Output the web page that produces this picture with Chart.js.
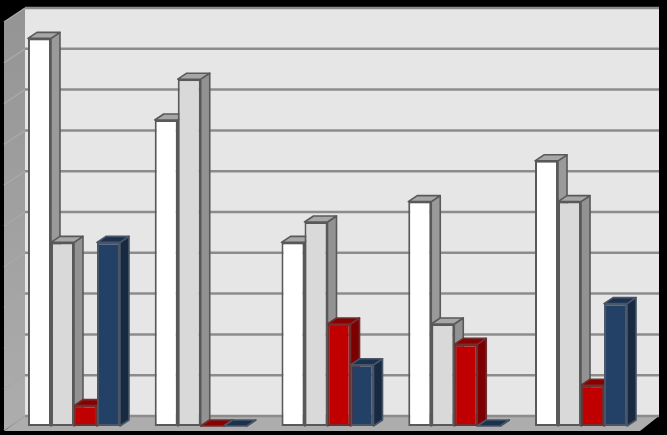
<!DOCTYPE html>
<html>
<head>
<meta charset="utf-8">
<style>html,body{margin:0;padding:0;background:#000;overflow:hidden}canvas{display:block}</style>
<script src="https://cdn.jsdelivr.net/npm/chart.js@4"></script>
</head>
<body>
<canvas id="c" width="667" height="435"></canvas>
<script>
const categories = ["1", "2", "3", "4", "5"];
const seriesA = [95, 75, 45, 55, 65];
const seriesB = [45, 85, 50, 25, 55];
const seriesC = [5, 0, 25, 20, 10];
const seriesD = [45, 0, 15, 0, 30];
const tickStep = 10;
const axisMax = 100;

const fronts = ["#ffffff", "#d9d9d9", "#c00000", "#234067"];
const tops = ["#a6a6a6", "#a6a6a6", "#8a0000", "#1b3150"];
const sides = ["#9a9a9a", "#929292", "#7d0000", "#182a42"];
const edges = ["#595959", "#595959", "#6e3030", "#4a5666"];
const DX = 9, DY = 6;

const scene = {
  id: "scene",
  beforeDatasetsDraw(chart) {
    const c = chart.ctx, a = chart.chartArea, y = chart.scales.y;
    const wl = a.left + 14.4, wr = a.right + 14.6, fl = wl - 21, fr = wr - 19;
    const wt = y.getPixelForValue(axisMax) - 10, wb = y.getPixelForValue(0) - 10;
    const poly = (pts, fill, stroke, lw) => {
      c.beginPath();
      pts.forEach((p, i) => i ? c.lineTo(p[0], p[1]) : c.moveTo(p[0], p[1]));
      c.closePath();
      if (fill) { c.fillStyle = fill; c.fill(); }
      if (stroke) { c.strokeStyle = stroke; c.lineWidth = lw; c.lineJoin = "round"; c.stroke(); }
    };
    // back wall, side wall, floor
    poly([[wl, wt], [wr, wt], [wr, wb], [wl, wb]], "#e6e6e6");
    const g = c.createLinearGradient(0, wt, 0, wb + 14);
    g.addColorStop(0, "#949494"); g.addColorStop(1, "#adadad");
    poly([[fl, wt + 14], [wl, wt], [wl, wb], [fl, wb + 14]], g);
    poly([[fl, wb + 15], [wl, wb], [wr, wb], [fr, wb + 15]], "#adadad");
    // grid lines
    for (let v = 0; v <= axisMax; v += tickStep) {
      const py = y.getPixelForValue(v) - 10;
      c.lineCap = "butt";
      c.strokeStyle = "#a8a8a8"; c.lineWidth = 1.5;
      c.beginPath(); c.moveTo(fl, py + 14); c.lineTo(wl, py); c.stroke();
      c.strokeStyle = "#8c8c8c"; c.lineWidth = 2.5;
      c.beginPath(); c.moveTo(wl, py); c.lineTo(wr, py); c.stroke();
    }
    // bar depth faces, left to right
    const metas = chart.data.datasets.map((_, i) => chart.getDatasetMeta(i));
    categories.forEach((_, ci) => {
      metas.forEach((m, di) => {
        const b = m.data[ci].getProps(["x", "y", "base", "width"], true);
        const l = b.x - b.width / 2, r = b.x + b.width / 2;
        poly([[r, b.y], [r + DX, b.y - DY], [r + DX, b.base - DY], [r, b.base]], sides[di], edges[di], 1.6);
        poly([[l, b.y], [l + DX, b.y - DY], [r + DX, b.y - DY], [r, b.y]], tops[di], edges[di], 1.6);
      });
    });
  }
};

new Chart(document.getElementById("c"), {
  type: "bar",
  data: {
    labels: categories,
    datasets: [seriesA, seriesB, seriesC, seriesD].map((d, i) => ({
      label: "S" + (i + 1),
      data: d,
      backgroundColor: fronts[i],
      borderColor: edges[i],
      borderWidth: 2,
      borderSkipped: false
    }))
  },
  options: {
    responsive: false,
    animation: false,
    devicePixelRatio: 1,
    layout: { padding: { left: 10.6, right: 22.6, top: 18, bottom: 9 } },
    datasets: { bar: { categoryPercentage: 0.726, barPercentage: 1 } },
    plugins: { legend: { display: false }, title: { display: false }, tooltip: { enabled: false } },
    scales: {
      x: { display: false },
      y: { display: false, min: 0, max: axisMax, ticks: { stepSize: tickStep } }
    }
  },
  plugins: [scene]
});
</script>
</body>
</html>
